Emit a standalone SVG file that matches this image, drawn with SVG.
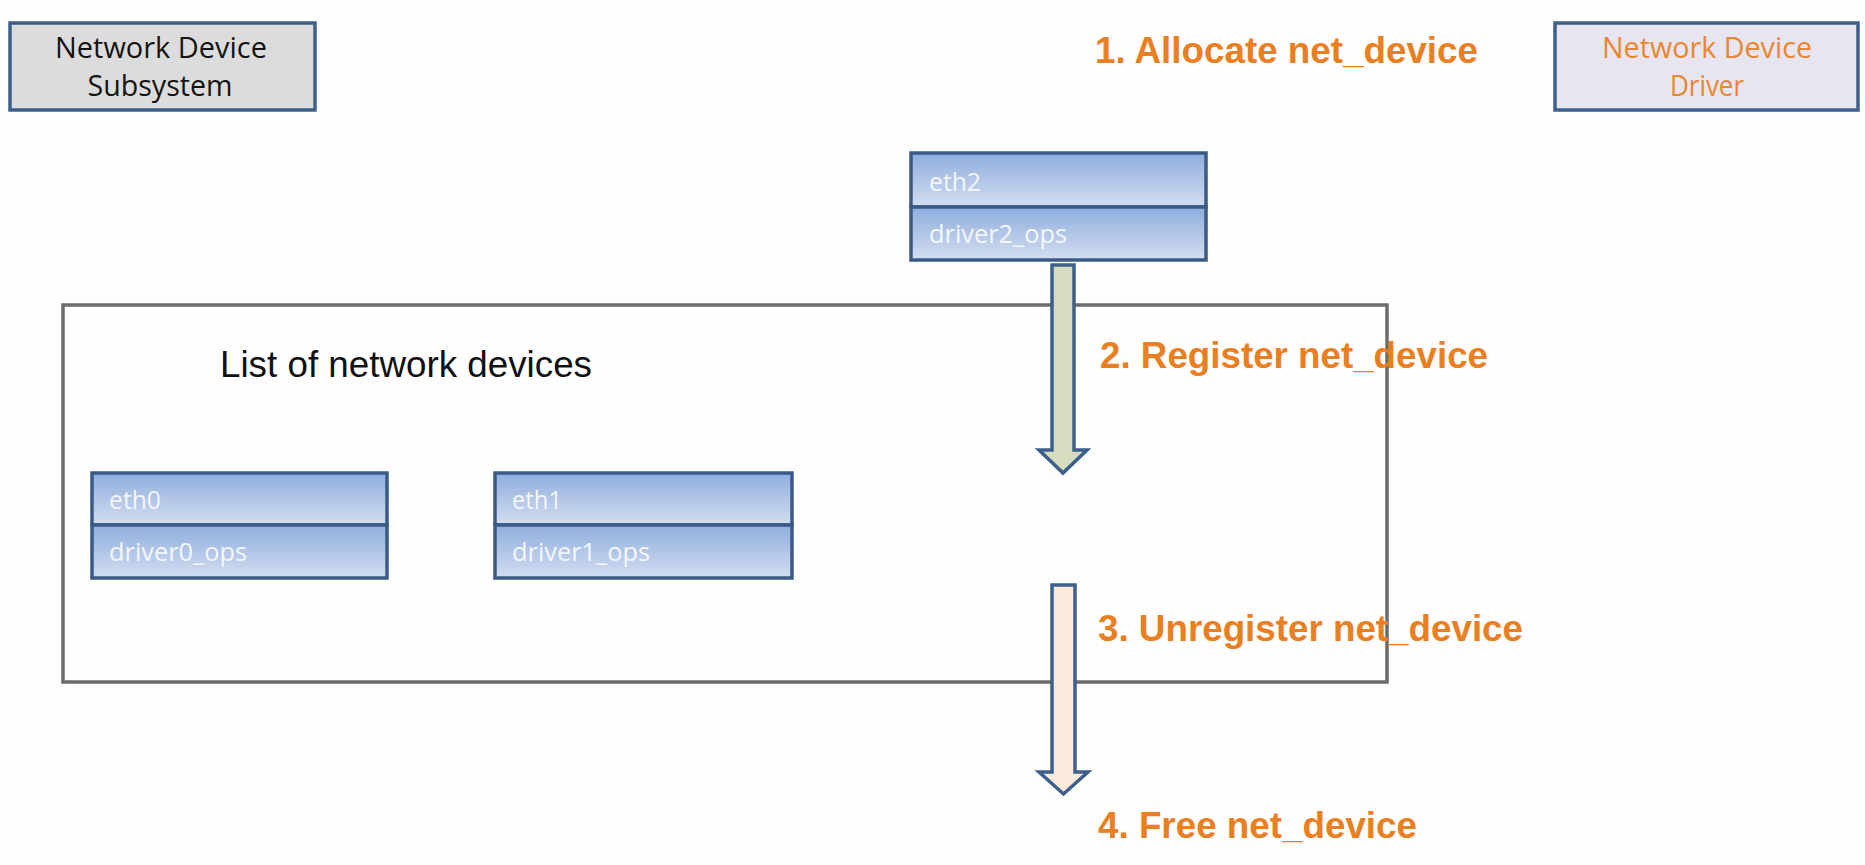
<svg xmlns="http://www.w3.org/2000/svg" width="1865" height="865" viewBox="0 0 1865 865">
<defs>
<linearGradient id="cellGrad" x1="0" y1="0" x2="0" y2="1">
<stop offset="0" stop-color="#8faddd"/>
<stop offset="1" stop-color="#d3def1"/>
</linearGradient>
<style>
.box{stroke:#3d5f8c;stroke-width:3.5}
.cell{fill:url(#cellGrad);stroke:#3a5a87;stroke-width:3.5}
.celltxt{font-family:"Open Sans","Liberation Sans",sans-serif;font-size:25px;fill:#f3f6fc}
.hdr{font-family:"Open Sans","Liberation Sans",sans-serif;font-size:29px;text-anchor:middle}
.step{font-family:"Liberation Sans",Arial,sans-serif;font-size:36px;font-weight:bold;fill:#ea7f22}
.arrow{stroke:#3d5f8c;stroke-width:3.5;stroke-linejoin:miter}
</style>
</defs>
<rect x="0" y="0" width="1865" height="865" fill="#fdfdfd"/>

<g id="container">
<rect x="63" y="305" width="1324" height="377" fill="#fefefe" stroke="#6b6b6b" stroke-width="3.5"/>
<text x="220" y="377" font-family="Liberation Sans,Arial,sans-serif" font-size="37" fill="#111" textLength="372" lengthAdjust="spacingAndGlyphs">List of network devices</text>
</g>

<g id="subsystem">
<rect class="box" x="10" y="23" width="305" height="87" fill="#dcdcdc"/>
<text class="hdr" x="161" y="58" fill="#141414" textLength="212" lengthAdjust="spacingAndGlyphs">Network Device</text>
<text class="hdr" x="160" y="96" fill="#141414" textLength="145" lengthAdjust="spacingAndGlyphs">Subsystem</text>
</g>

<g id="driver">
<rect class="box" x="1555" y="23" width="303" height="87" fill="#e7e5f0"/>
<text class="hdr" x="1707" y="58" fill="#ea8530" textLength="210" lengthAdjust="spacingAndGlyphs">Network Device</text>
<text class="hdr" x="1707" y="96" fill="#ea8530" textLength="74" lengthAdjust="spacingAndGlyphs">Driver</text>
</g>

<g id="eth2">
<rect class="cell" x="911" y="153" width="295" height="54"/>
<rect class="cell" x="911" y="207" width="295" height="53"/>
<text class="celltxt" x="929" y="191" textLength="52" lengthAdjust="spacingAndGlyphs">eth2</text>
<text class="celltxt" x="929" y="243" textLength="138" lengthAdjust="spacingAndGlyphs">driver2_ops</text>
</g>

<g id="eth0">
<rect class="cell" x="92" y="473" width="295" height="52"/>
<rect class="cell" x="92" y="525" width="295" height="53"/>
<text class="celltxt" x="109" y="509" textLength="52" lengthAdjust="spacingAndGlyphs">eth0</text>
<text class="celltxt" x="109" y="561" textLength="138" lengthAdjust="spacingAndGlyphs">driver0_ops</text>
</g>

<g id="eth1">
<rect class="cell" x="495" y="473" width="297" height="52"/>
<rect class="cell" x="495" y="525" width="297" height="53"/>
<text class="celltxt" x="512" y="509" textLength="50" lengthAdjust="spacingAndGlyphs">eth1</text>
<text class="celltxt" x="512" y="561" textLength="138" lengthAdjust="spacingAndGlyphs">driver1_ops</text>
</g>

<g id="connectors">
<path class="arrow" fill="#d5dcbf" d="M1052,265 L1074,265 L1074,450 L1087,450 L1063,473 L1039,450 L1052,450 Z"/>
<path class="arrow" fill="#fbe9dc" d="M1052,585 L1075,585 L1075,772 L1088,772 L1063.5,794 L1039,772 L1052,772 Z"/>
</g>

<g id="labels">
<text class="step" x="1095" y="63" textLength="383" lengthAdjust="spacingAndGlyphs">1. Allocate net_device</text>
<text class="step" x="1100" y="368" textLength="388" lengthAdjust="spacingAndGlyphs">2. Register net_device</text>
<text class="step" x="1098" y="641" textLength="425" lengthAdjust="spacingAndGlyphs">3. Unregister net_device</text>
<text class="step" x="1098" y="838" textLength="319" lengthAdjust="spacingAndGlyphs">4. Free net_device</text>
</g>
</svg>
